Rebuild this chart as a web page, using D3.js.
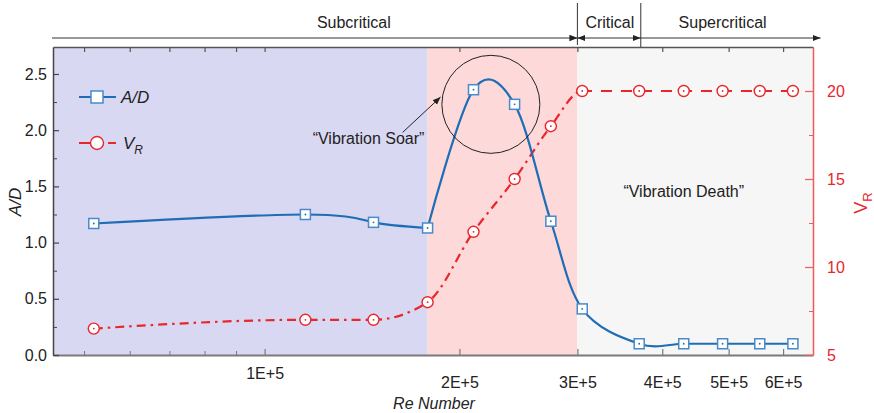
<!DOCTYPE html>
<html lang="en">
<head>
<meta charset="UTF-8" />
<title>A/D and VR vs Re</title>
<script src="https://cdn.jsdelivr.net/npm/d3@7"></script>
<style>
  body { margin: 0; background: #fff; }
  text { font-family: "Liberation Sans", Arial, sans-serif; }
</style>
</head>
<body>
<div id="chart"></div>
<script>
// values
const reValues = [5.2e4, 1.16e5, 1.48e5, 1.79e5, 2.1e5, 2.42e5, 2.74e5, 3.05e5, 3.7e5, 4.3e5, 4.9e5, 5.55e5, 6.2e5];
const adValues = [1.17, 1.25, 1.18, 1.13, 2.36, 2.23, 1.19, 0.41, 0.10, 0.10, 0.10, 0.10, 0.10];
const vrValues = [6.5, 7.0, 7.0, 8.0, 12.0, 15.0, 18.0, 20.0, 20.0, 20.0, 20.0, 20.0, 20.0];

const xTicks = [1e5, 2e5, 3e5, 4e5, 5e5, 6e5];
const xTickLabels = ["1E+5", "2E+5", "3E+5", "4E+5", "5E+5", "6E+5"];
const xMinorTicks = [5e4, 6e4, 7e4, 8e4, 9e4];
const adTicks = [0, 0.5, 1.0, 1.5, 2.0, 2.5];
const adMinorTicks = [0.25, 0.75, 1.25, 1.75, 2.25];
const vrTicks = [5, 10, 15, 20];
const vrMinorTicks = [7.5, 12.5, 17.5];

// shaded flow zones and the regime arrows on top
const zoneBounds = [4.4e4, 1.79e5, 3.0e5, 6.63e5];
const zoneColors = ["#d9d8f2", "#fdd9d9", "#f5f6f5"];
const regimeNames = ["Subcritical", "Critical", "Supercritical"];
const regimeBounds = [4.4e4, 3.0e5, 3.72e5, 6.8e5];
const regimeLabelAt = [1.38e5, 3.35e5, 4.9e5];

const W = 874, H = 413;
const x0 = 53, x1 = 813, yTop = 47, yBot = 355;

// axis looks like log10 of (Re + a small offset)
const RE_OFFSET = 1.2e4;
const xLog = d3.scaleLog().domain([4.4e4 + RE_OFFSET, 6.63e5 + RE_OFFSET]).range([x0, x1]);
const x = re => xLog(re + RE_OFFSET);
const yAD = d3.scaleLinear().domain([0, 2.74]).range([yBot, yTop]);
const yVR = d3.scaleLinear().domain([5, 22.5]).range([yBot, yTop]);

const blue = "#1f6db5", blueMk = "#4a8ac9";
const red = "#e8262b", redAxis = "#f05a5a";

const svg = d3.select("#chart").append("svg")
  .attr("width", W).attr("height", H);

const defs = svg.append("defs");
defs.append("marker").attr("id", "ah")
  .attr("viewBox", "0 0 10 10").attr("refX", 10).attr("refY", 5)
  .attr("markerWidth", 8).attr("markerHeight", 8).attr("markerUnits", "userSpaceOnUse")
  .attr("orient", "auto-start-reverse")
  .append("path").attr("d", "M0,1L10,5L0,9Z").attr("fill", "#222");
defs.append("clipPath").attr("id", "clipLeft").append("rect")
  .attr("x", 0).attr("y", 0).attr("width", x(3.0e5)).attr("height", H);
defs.append("clipPath").attr("id", "clipRight").append("rect")
  .attr("x", x(3.0e5)).attr("y", 0).attr("width", W).attr("height", H);

// zone backgrounds
svg.selectAll(".zone").data(zoneColors).enter().append("rect")
  .attr("class", "zone")
  .attr("x", (d, i) => x(zoneBounds[i]))
  .attr("width", (d, i) => x(zoneBounds[i + 1]) - x(zoneBounds[i]))
  .attr("y", yTop).attr("height", yBot - yTop)
  .attr("fill", d => d);

// regime arrows above the plot
const arrowY = 38;
regimeNames.forEach((name, i) => {
  const a = x(regimeBounds[i]), b = x(regimeBounds[i + 1]);
  const ln = svg.append("line")
    .attr("x1", i === 0 ? a - 1 : a).attr("x2", b)
    .attr("y1", arrowY).attr("y2", arrowY)
    .attr("stroke", "#333").attr("stroke-width", 1)
    .attr("marker-end", "url(#ah)");
  if (i === 1) ln.attr("marker-start", "url(#ah)");
  svg.append("text")
    .attr("x", x(regimeLabelAt[i])).attr("y", 28)
    .attr("text-anchor", "middle").attr("font-size", 16).attr("fill", "#222")
    .text(name);
});
[regimeBounds[1], regimeBounds[2]].forEach((re, i) => {
  svg.append("line")
    .attr("x1", x(re)).attr("x2", x(re))
    .attr("y1", 3).attr("y2", i === 0 ? 45 : 47)
    .attr("stroke", "#333").attr("stroke-width", 1);
});

// axes
function styleAxis(g, color, width) {
  g.select(".domain").attr("stroke", color).attr("stroke-width", width);
  g.selectAll(".tick line").attr("stroke", color).attr("stroke-width", 1.2);
  g.selectAll(".tick text").attr("fill", color === redAxis ? red : "#222")
    .attr("font-size", 16).attr("font-family", "Liberation Sans, Arial, sans-serif");
}

const gx = svg.append("g").attr("transform", `translate(0,${yBot})`)
  .call(d3.axisBottom(xLog)
    .tickValues(xTicks.map(v => v + RE_OFFSET))
    .tickFormat((d, i) => xTickLabels[i])
    .tickSizeInner(-6).tickSizeOuter(0).tickPadding(22));
styleAxis(gx, "#7a7a7a", 2);
// the 1E+5 label sits a little higher in the original
gx.selectAll(".tick text").filter((d, i) => i === 0).attr("dy", "0.15em");
svg.append("g").attr("transform", `translate(0,${yBot})`)
  .call(d3.axisBottom(xLog).tickValues(xMinorTicks.map(v => v + RE_OFFSET))
    .tickFormat("").tickSizeInner(-4).tickSizeOuter(0))
  .call(g => { g.select(".domain").remove(); g.selectAll("line").attr("stroke", "#7a7a7a"); });

const gTop = svg.append("g").attr("transform", `translate(0,${yTop})`)
  .call(d3.axisTop(xLog).tickValues(xTicks.concat(xMinorTicks).map(v => v + RE_OFFSET))
    .tickFormat("").tickSizeInner(-5).tickSizeOuter(0));
styleAxis(gTop, "#555", 1.3);

const gy = svg.append("g").attr("transform", `translate(${x0},0)`)
  .call(d3.axisLeft(yAD).tickValues(adTicks).tickFormat(d3.format(".1f"))
    .tickSizeInner(-6).tickSizeOuter(0).tickPadding(6));
styleAxis(gy, "#444", 1.5);
svg.append("g").attr("transform", `translate(${x0},0)`)
  .call(d3.axisLeft(yAD).tickValues(adMinorTicks).tickFormat("").tickSizeInner(-4).tickSizeOuter(0))
  .call(g => { g.select(".domain").remove(); g.selectAll("line").attr("stroke", "#444"); });

const gr = svg.append("g").attr("transform", `translate(${x1},0)`)
  .call(d3.axisRight(yVR).tickValues(vrTicks)
    .tickSizeInner(-8).tickSizeOuter(0).tickPadding(14));
styleAxis(gr, redAxis, 1.5);
svg.append("g").attr("transform", `translate(${x1},0)`)
  .call(d3.axisRight(yVR).tickValues(vrMinorTicks).tickFormat("").tickSizeInner(-4).tickSizeOuter(0))
  .call(g => { g.select(".domain").remove(); g.selectAll("line").attr("stroke", redAxis); });

// axis titles
svg.append("text").attr("transform", `translate(21,202) rotate(-90)`)
  .attr("text-anchor", "middle").attr("font-size", 17).attr("font-style", "italic")
  .attr("fill", "#222").text("A/D");
const vrTitle = svg.append("text").attr("transform", `translate(867,203) rotate(-90)`)
  .attr("text-anchor", "middle").attr("font-size", 18).attr("fill", red);
vrTitle.append("tspan").text("V");
vrTitle.append("tspan").attr("font-size", 13).attr("dy", 5).text("R");
svg.append("text").attr("x", 434).attr("y", 409)
  .attr("text-anchor", "middle").attr("font-size", 16).attr("font-style", "italic")
  .attr("fill", "#222").text("Re Number");

// curves
const pts = reValues.map((re, i) => ({re, ad: adValues[i], vr: vrValues[i]}));
const splitAt = 3; // the A/D curve kinks at the start of the soar
const adLineA = d3.line().x(d => x(d.re)).y(d => yAD(d.ad)).curve(d3.curveNatural);
const adLineB = d3.line().x(d => x(d.re)).y(d => yAD(d.ad)).curve(d3.curveCatmullRom.alpha(0));
const vrLine = d3.line().x(d => x(d.re)).y(d => yVR(d.vr)).curve(d3.curveMonotoneX);

svg.append("path").datum(pts).attr("d", vrLine)
  .attr("fill", "none").attr("stroke", red).attr("stroke-width", 2.2)
  .attr("stroke-dasharray", "9,5,2.5,5").attr("clip-path", "url(#clipLeft)");
svg.append("path").datum(pts).attr("d", vrLine)
  .attr("fill", "none").attr("stroke", red).attr("stroke-width", 2.2)
  .attr("stroke-dasharray", "11,9").attr("clip-path", "url(#clipRight)");
svg.append("path").datum(pts.slice(0, splitAt + 1)).attr("d", adLineA)
  .attr("fill", "none").attr("stroke", blue).attr("stroke-width", 2.2);
svg.append("path").datum(pts.slice(splitAt)).attr("d", adLineB)
  .attr("fill", "none").attr("stroke", blue).attr("stroke-width", 2.2);

// markers
const sq = 10;
svg.selectAll(".sq").data(pts).enter().append("rect").attr("class", "sq")
  .attr("x", d => x(d.re) - sq / 2).attr("y", d => yAD(d.ad) - sq / 2)
  .attr("width", sq).attr("height", sq)
  .attr("fill", "#fff").attr("stroke", blueMk).attr("stroke-width", 1.5);
svg.selectAll(".sqdot").data(pts).enter().append("circle").attr("class", "sqdot")
  .attr("cx", d => x(d.re)).attr("cy", d => yAD(d.ad)).attr("r", 0.9).attr("fill", blue);
svg.selectAll(".ci").data(pts).enter().append("circle").attr("class", "ci")
  .attr("cx", d => x(d.re)).attr("cy", d => yVR(d.vr)).attr("r", 5.5)
  .attr("fill", "#fff").attr("stroke", red).attr("stroke-width", 1.4);
svg.selectAll(".cidot").data(pts).enter().append("circle").attr("class", "cidot")
  .attr("cx", d => x(d.re)).attr("cy", d => yVR(d.vr)).attr("r", 0.9).attr("fill", red);

// legend
const lg = svg.append("g");
lg.append("line").attr("x1", 79).attr("x2", 116).attr("y1", 97).attr("y2", 97)
  .attr("stroke", blue).attr("stroke-width", 2.2);
lg.append("rect").attr("x", 91).attr("y", 91).attr("width", 12).attr("height", 12)
  .attr("fill", "#fff").attr("stroke", blueMk).attr("stroke-width", 1.5);
lg.append("text").attr("x", 121).attr("y", 103).attr("font-size", 17)
  .attr("font-style", "italic").attr("fill", "#222").text("A/D");
lg.append("line").attr("x1", 79).attr("x2", 116).attr("y1", 143).attr("y2", 143)
  .attr("stroke", red).attr("stroke-width", 2.2).attr("stroke-dasharray", "12,17,8");
lg.append("circle").attr("cx", 97).attr("cy", 143).attr("r", 6.5)
  .attr("fill", "#fff").attr("stroke", red).attr("stroke-width", 1.4);
const lt = lg.append("text").attr("x", 123).attr("y", 149).attr("font-size", 17)
  .attr("font-style", "italic").attr("fill", "#222");
lt.append("tspan").text("V");
lt.append("tspan").attr("font-size", 12).attr("dy", 5).text("R");

// annotations
svg.append("circle").attr("cx", x(2.23e5)).attr("cy", yAD(2.23)).attr("r", 49)
  .attr("fill", "none").attr("stroke", "#222").attr("stroke-width", 1);
svg.append("line")
  .attr("x1", x(1.64e5)).attr("y1", yAD(1.98))
  .attr("x2", x(1.873e5)).attr("y2", yAD(2.295))
  .attr("stroke", "#222").attr("stroke-width", 1).attr("marker-end", "url(#ah)");
svg.append("text").attr("x", x(1.454e5)).attr("y", yAD(1.877))
  .attr("text-anchor", "middle").attr("font-size", 16).attr("fill", "#222")
  .text("\u201CVibration Soar\u201D");
svg.append("text").attr("x", x(4.3e5)).attr("y", yAD(1.405))
  .attr("text-anchor", "middle").attr("font-size", 16).attr("fill", "#222")
  .text("\u201CVibration Death\u201D");
</script>
</body>
</html>
